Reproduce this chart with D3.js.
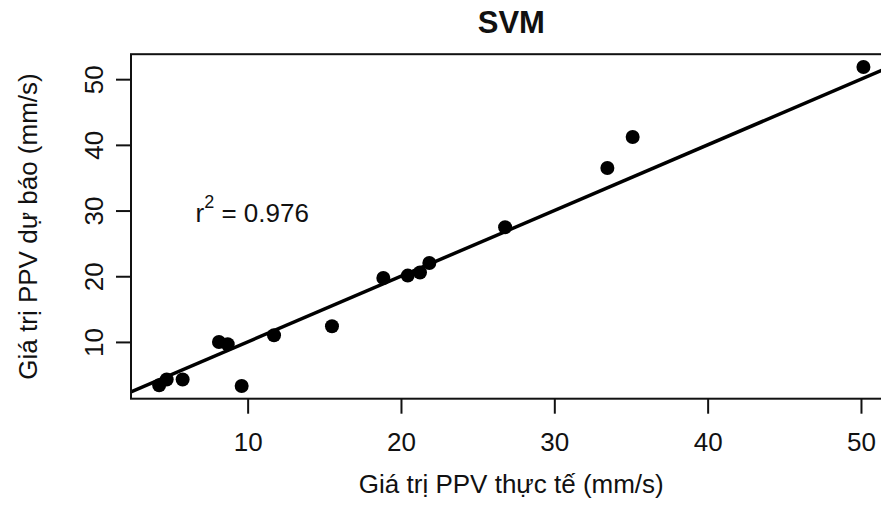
<!DOCTYPE html>
<html><head><meta charset="utf-8">
<script src="https://cdn.jsdelivr.net/npm/d3@7/dist/d3.min.js"></script>
<style>body{margin:0;background:#fff;} text{font-family:"Liberation Sans",Arial,sans-serif;fill:#111;}</style>
</head><body>
<script>
const actual    = [4.23, 4.72, 5.76, 8.13, 8.70, 9.61, 11.72, 15.50, 18.85, 20.44, 21.24, 21.85, 26.79, 33.46, 35.11, 50.16];
const predicted = [3.41, 4.28, 4.28, 10.0, 9.65, 3.30, 11.02, 12.39, 19.74, 20.10, 20.56, 22.02, 27.45, 36.48, 41.20, 51.86];
const xTicks = [10, 20, 30, 40, 50];
const yTicks = [10, 20, 30, 40, 50];
const fitIntercept = 0, fitSlope = 1;
const titleText = "SVM";
const xLabel = "Giá trị PPV thực tế (mm/s)";
const yLabel = "Giá trị PPV dự báo (mm/s)";
const r2Label = ["r", "2", " = 0.976"];
const r2Pos = [6.6, 29.6];

const W = 881, H = 524;
const L = 131, R = 891.6, T = 54.2, B = 398.7;
function ext(a){const mn=d3.min(a), mx=d3.max(a), r=mx-mn; return [mn-0.04*r, mx+0.04*r];}
const x = d3.scaleLinear().domain(ext(actual)).range([L, R]);
const y = d3.scaleLinear().domain(ext(predicted)).range([B, T]);

const svg = d3.select("body").append("svg").attr("width", W).attr("height", H);
svg.append("defs").append("clipPath").attr("id","clip").append("rect")
  .attr("x",L).attr("y",T).attr("width",R-L).attr("height",B-T);

// regression line
const xd = x.domain();
svg.append("line").attr("clip-path","url(#clip)")
  .attr("x1", x(xd[0])).attr("y1", y(fitIntercept + fitSlope*xd[0]))
  .attr("x2", x(xd[1])).attr("y2", y(fitIntercept + fitSlope*xd[1]))
  .attr("stroke","#000").attr("stroke-width",3.5);

// points
svg.append("g").selectAll("circle").data(actual).join("circle")
  .attr("cx", d=>x(d)).attr("cy", (d,i)=>y(predicted[i])).attr("r", 7).attr("fill","#000");

// box
svg.append("rect").attr("x",L).attr("y",T).attr("width",R-L).attr("height",B-T)
  .attr("fill","none").attr("stroke","#111").attr("stroke-width",2);

// axes
const fs = 26;
const gx = svg.append("g").attr("transform",`translate(0,${B})`)
  .call(d3.axisBottom(x).tickValues(xTicks).tickSize(15).tickPadding(19).tickFormat(d3.format("d")));
const gy = svg.append("g").attr("transform",`translate(${L},0)`)
  .call(d3.axisLeft(y).tickValues(yTicks).tickSize(15).tickPadding(10).tickFormat(d3.format("d")));
[gx,gy].forEach(g=>{
  g.select(".domain").remove();
  g.selectAll(".tick line").attr("stroke","#111").attr("stroke-width",2);
  g.selectAll(".tick text").style("font-size",fs+"px").attr("fill","#111")
   .style("font-family",'"Liberation Sans",Arial,sans-serif');
});
gy.selectAll(".tick text").each(function(){
  const t = d3.select(this);
  t.attr("x", null).attr("dy", null).attr("text-anchor","middle")
   .attr("dominant-baseline","central")
   .attr("transform","translate(-37,0) rotate(-90)");
});

// labels
svg.append("text").attr("x",(L+R)/2).attr("y",22).attr("text-anchor","middle")
  .attr("dominant-baseline","central").style("font-size","31px").style("font-weight","bold").text(titleText);
svg.append("text").attr("x",(L+R)/2).attr("y",484).attr("text-anchor","middle")
  .attr("dominant-baseline","central").style("font-size",fs+"px").text(xLabel);
svg.append("text").attr("transform",`translate(28,${(T+B)/2}) rotate(-90)`).attr("text-anchor","middle")
  .attr("dominant-baseline","central").style("font-size",fs+"px").text(yLabel);

const rt = svg.append("text").attr("x", x(r2Pos[0])).attr("y", y(r2Pos[1])).attr("text-anchor","start")
  .attr("dominant-baseline","central").style("font-size",fs+"px");
rt.append("tspan").text(r2Label[0]);
rt.append("tspan").attr("dy",-11).style("font-size","18px").text(r2Label[1]);
rt.append("tspan").attr("dy",11).text(r2Label[2]);
</script>
</body></html>
